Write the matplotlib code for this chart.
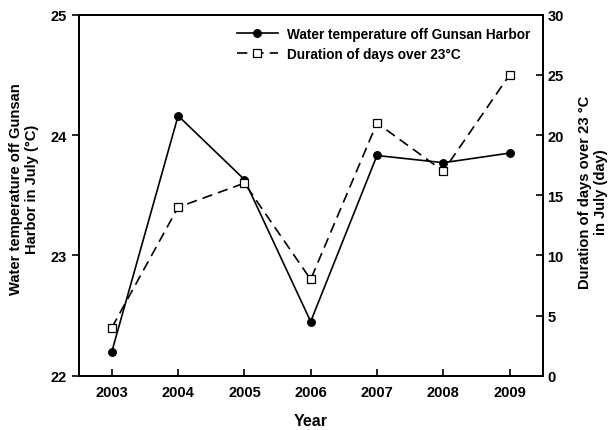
import matplotlib
matplotlib.use("Agg")
from matplotlib import pyplot as plt

plt.rcParams['font.family'] = ['Liberation Sans', 'DejaVu Sans']
plt.rcParams['font.weight'] = 'bold'

years = [2003, 2004, 2005, 2006, 2007, 2008, 2009]
water_temp = [22.2, 24.16, 23.63, 22.45, 23.83, 23.77, 23.85]
days_over = [4, 14, 16, 8, 21, 17, 25]

fig = plt.figure(figsize=(6.12, 4.31), dpi=100)
ax = fig.add_axes([78.7 / 612, 1 - 376.7 / 431, (542.7 - 78.7) / 612, (376.7 - 15.7) / 431])
ax2 = ax.twinx()

l1, = ax.plot(years, water_temp, color='black', lw=1.2, marker='o', ms=5.4,
              label='Water temperature off Gunsan Harbor')
l2, = ax2.plot(years, days_over, color='black', lw=1.2, ls=(0, (6.2, 3.6)), marker='s', ms=5.2,
               mfc='white', mew=0.9, label='Duration of days over 23\u00b0C')

ax.set_xlim(2002.5, 2009.5)
ax.set_ylim(22, 25)
ax2.set_ylim(0, 30)
ax.set_xticks(years)
ax.set_yticks([22, 23, 24, 25])
ax2.set_yticks([0, 5, 10, 15, 20, 25, 30])

ax.tick_params(axis='x', direction='in', length=5, width=1.2, labelsize=10.5, pad=7)
ax.tick_params(axis='y', direction='out', length=5, width=1.2, labelsize=10.5)
ax2.tick_params(axis='y', direction='in', length=5, width=1.2, labelsize=10.5)
for a in (ax, ax2):
    for s in a.spines.values():
        s.set_linewidth(1.4)

fig.text(310.7 / 612, 1 - 422 / 431, 'Year', fontsize=11.5, fontweight='bold',
         ha='center', va='center')
fig.text(24 / 612, 1 - 189 / 431, 'Water temperature off Gunsan\nHarbor in July (\u00b0C)',
         fontsize=10.6, fontweight='bold', rotation=90, ha='center', va='center',
         multialignment='center', linespacing=1.2)
fig.text(593 / 612, 1 - 192 / 431, 'Duration of days over 23 \u00b0C\nin July (day)',
         fontsize=10.6, fontweight='bold', rotation=90, ha='center', va='center',
         multialignment='center', linespacing=1.2)

leg = ax.legend(handles=[l1, l2], loc='upper right', frameon=False, fontsize=9.8,
                handlelength=3.0, handletextpad=0.7, borderaxespad=0.5, labelspacing=0.45)
for t in leg.get_texts():
    t.set_fontweight('bold')

plt.savefig('out.png', dpi=100)
plt.close('all')
